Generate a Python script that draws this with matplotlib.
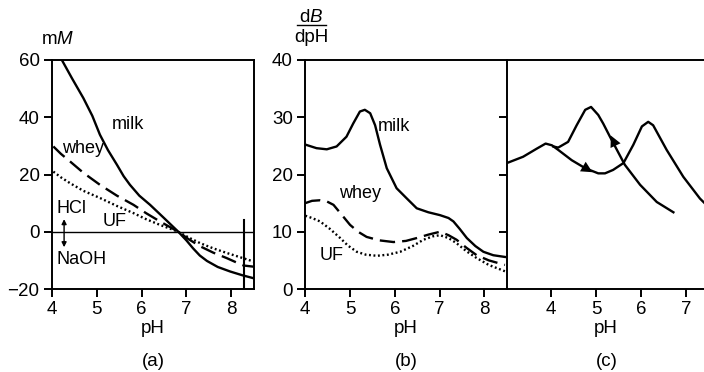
import matplotlib
matplotlib.use('Agg')
import matplotlib.pyplot as plt
from matplotlib.lines import Line2D

plt.rcParams['font.family'] = ['Liberation Sans', 'DejaVu Sans']
plt.rcParams['mathtext.fontset'] = 'custom'
plt.rcParams['mathtext.rm'] = 'Liberation Sans'
plt.rcParams['mathtext.it'] = 'Liberation Sans:italic'

# ---- panel (a): titration curves, mM acid/base vs pH ----
milk_a_ph = [4.22, 4.45, 4.70, 4.90, 5.07, 5.25, 5.45, 5.60, 5.74, 5.95, 6.19, 6.50, 6.82, 7.00, 7.15, 7.30, 7.46, 7.70, 7.98, 8.25, 8.54]
milk_a_mm = [60.0, 53.5, 46.7, 40.5, 33.9, 28.5, 23.4, 19.4, 16.4, 12.6, 9.4, 4.8, 0.0, -3.0, -5.8, -8.3, -10.2, -12.3, -13.9, -15.2, -16.4]

whey_a_ph = [4.03, 4.20, 4.40, 4.70, 5.07, 5.45, 5.82, 6.10, 6.41, 6.82, 7.05, 7.31, 7.60, 7.90, 8.10, 8.28, 8.50]
whey_a_mm = [29.8, 27.2, 24.6, 20.6, 16.4, 12.6, 9.4, 6.5, 3.6, 0.0, -2.6, -5.1, -7.3, -9.2, -10.6, -11.8, -12.2]

uf_a_ph = [4.03, 4.20, 4.40, 4.70, 5.07, 5.45, 5.82, 6.10, 6.41, 6.82, 7.05, 7.31, 7.60, 7.90, 8.20, 8.50]
uf_a_mm = [21.0, 19.0, 17.0, 14.3, 11.8, 9.0, 6.5, 4.4, 2.4, 0.0, -2.0, -4.0, -5.8, -7.4, -8.9, -10.4]

# ---- panel (b): buffering, dB/dpH vs pH ----
milk_b_ph = [4.01, 4.25, 4.48, 4.70, 4.92, 5.07, 5.22, 5.33, 5.45, 5.56, 5.67, 5.82, 6.04, 6.27, 6.49, 6.75, 7.01, 7.20, 7.31, 7.45, 7.61, 7.80, 7.98, 8.20, 8.46]
milk_b_db = [25.2, 24.6, 24.4, 24.9, 26.6, 28.9, 31.0, 31.3, 30.7, 28.6, 25.2, 21.1, 17.6, 15.8, 14.1, 13.4, 12.9, 12.4, 11.8, 10.5, 8.9, 7.5, 6.5, 5.9, 5.6]

whey_b_ph = [4.00, 4.15, 4.33, 4.48, 4.63, 4.80, 5.00, 5.18, 5.37, 5.65, 5.97, 6.25, 6.49, 6.75, 7.01, 7.20, 7.38, 7.60, 7.83, 8.10, 8.46]
whey_b_db = [15.0, 15.4, 15.5, 15.3, 14.7, 13.1, 11.2, 10.0, 9.1, 8.5, 8.2, 8.4, 8.9, 9.5, 10.0, 9.4, 8.6, 7.2, 5.9, 5.0, 4.2]

uf_b_ph = [4.00, 4.15, 4.33, 4.55, 4.78, 4.95, 5.15, 5.35, 5.60, 5.85, 6.12, 6.40, 6.64, 6.85, 7.01, 7.20, 7.38, 7.60, 7.83, 8.10, 8.46]
uf_b_db = [12.8, 12.4, 11.8, 10.5, 8.9, 7.6, 6.5, 6.0, 5.8, 6.0, 6.5, 7.5, 8.6, 9.2, 9.4, 8.9, 8.0, 6.6, 5.4, 4.2, 3.1]

# ---- panel (c): hysteresis, forward and back titration ----
fwd_c_ph = [3.02, 3.38, 3.68, 3.88, 4.02, 4.16, 4.46, 4.76, 5.05, 5.20, 5.38, 5.61, 5.83, 6.02, 6.16, 6.27, 6.57, 6.94, 7.31, 7.40]
fwd_c_db = [22.0, 23.1, 24.5, 25.4, 25.1, 24.3, 22.5, 21.1, 20.2, 20.2, 20.8, 22.0, 25.2, 28.4, 29.2, 28.6, 24.3, 19.6, 15.8, 15.1]

back_c_ph = [6.72, 6.35, 5.98, 5.64, 5.31, 5.16, 5.05, 4.89, 4.76, 4.57, 4.38, 4.16, 4.05]
back_c_db = [13.4, 15.2, 18.2, 21.7, 26.6, 28.9, 30.4, 31.8, 31.3, 28.6, 25.7, 24.7, 24.9]

W, H = 704, 372
fig = plt.figure(figsize=(W / 100, H / 100), dpi=100)


def box(l, r, t, b):
    return [l / W, (H - b) / H, (r - l) / W, (b - t) / H]


FS = 13.5
LW = 1.7
SP = 1.4
ax_a = fig.add_axes(box(52, 254, 60, 289))
ax_b = fig.add_axes(box(305.3, 507, 60, 289))
ax_c = fig.add_axes(box(507, 704, 60, 289))

for ax in (ax_a, ax_b, ax_c):
    for s in ax.spines.values():
        s.set_linewidth(SP)
    ax.tick_params(direction='out', length=6, width=SP, labelsize=FS, pad=3,
                   top=False, right=False)
    ax.set_xlabel('pH', fontsize=FS, labelpad=1)

# (a)
ax_a.plot(milk_a_ph, milk_a_mm, color='black', lw=LW)
ax_a.plot(whey_a_ph, whey_a_mm, color='black', lw=LW, dashes=(6.5, 3))
ax_a.plot(uf_a_ph, uf_a_mm, color='black', lw=LW, linestyle=(0, (0.8, 1.1)))
ax_a.axhline(0, color='black', lw=1.0)
ax_a.plot([8.29, 8.29], [-20, 4.2], color='black', lw=1.5)
ax_a.set_xlim(4, 8.51)
ax_a.set_ylim(-20, 60)
ax_a.set_xticks([4, 5, 6, 7, 8])
ax_a.set_yticks([-20, 0, 20, 40, 60])
ax_a.text(5.69, 37.4, 'milk', fontsize=13, ha='center', va='center')
ax_a.text(4.70, 29.0, 'whey', fontsize=13, ha='center', va='center')
ax_a.text(4.09, 8.0, 'HCl', fontsize=13, ha='left', va='center')
ax_a.text(5.40, 3.6, 'UF', fontsize=13, ha='center', va='center')
ax_a.text(4.09, -9.8, 'NaOH', fontsize=13, ha='left', va='center')
ax_a.annotate('', xy=(4.27, 4.4), xytext=(4.27, -5.4),
              arrowprops=dict(arrowstyle='<|-|>', color='black', lw=1.0,
                              mutation_scale=7, shrinkA=0, shrinkB=0))

# (b)
ax_b.plot(milk_b_ph, milk_b_db, color='black', lw=LW)
ax_b.plot(whey_b_ph, whey_b_db, color='black', lw=LW, dashes=(6.5, 3))
ax_b.plot(uf_b_ph, uf_b_db, color='black', lw=LW, linestyle=(0, (0.8, 1.1)))
ax_b.set_xlim(4, 8.507)
ax_b.set_ylim(0, 40)
ax_b.set_xticks([4, 5, 6, 7, 8])
ax_b.set_yticks([0, 10, 20, 30, 40])
ax_b.spines['right'].set_visible(False)
ax_b.text(5.98, 28.4, 'milk', fontsize=13, ha='center', va='center')
ax_b.text(5.23, 16.6, 'whey', fontsize=13, ha='center', va='center')
ax_b.text(4.59, 5.9, 'UF', fontsize=13, ha='center', va='center')

# (c)
ax_c.plot(fwd_c_ph, fwd_c_db, color='black', lw=LW)
ax_c.plot(back_c_ph, back_c_db, color='black', lw=LW)
ax_c.set_xlim(3.022, 7.40)
ax_c.set_ylim(0, 40)
ax_c.set_xticks([4, 5, 6, 7])
ax_c.set_yticks([10, 20, 30])
ax_c.tick_params(axis='y', labelleft=False)
ax_c.spines['right'].set_visible(False)
ax_c.annotate('', xy=(4.92, 20.4), xytext=(4.62, 21.8),
              arrowprops=dict(arrowstyle='-|>', color='black', lw=0,
                              mutation_scale=20, shrinkA=0, shrinkB=0))
ax_c.annotate('', xy=(5.33, 26.8), xytext=(5.52, 23.6),
              arrowprops=dict(arrowstyle='-|>', color='black', lw=0,
                              mutation_scale=20, shrinkA=0, shrinkB=0))

# axis titles and panel letters
fig.text(58 / W, 1 - 39 / H, 'm$M$', fontsize=FS, ha='center', va='center')
fig.text(311 / W, 1 - 17 / H, 'd$B$', fontsize=FS, ha='center', va='center')
fig.add_artist(Line2D([297 / W, 326 / W], [1 - 24.5 / H, 1 - 24.5 / H],
                      color='black', lw=1.0))
fig.text(311 / W, 1 - 37 / H, 'dpH', fontsize=FS, ha='center', va='center')
fig.text(153 / W, 1 - 362 / H, '(a)', fontsize=FS, ha='center', va='center')
fig.text(406 / W, 1 - 362 / H, '(b)', fontsize=FS, ha='center', va='center')
fig.text(607 / W, 1 - 362 / H, '(c)', fontsize=FS, ha='center', va='center')

fig.savefig('out.png', dpi=100)
